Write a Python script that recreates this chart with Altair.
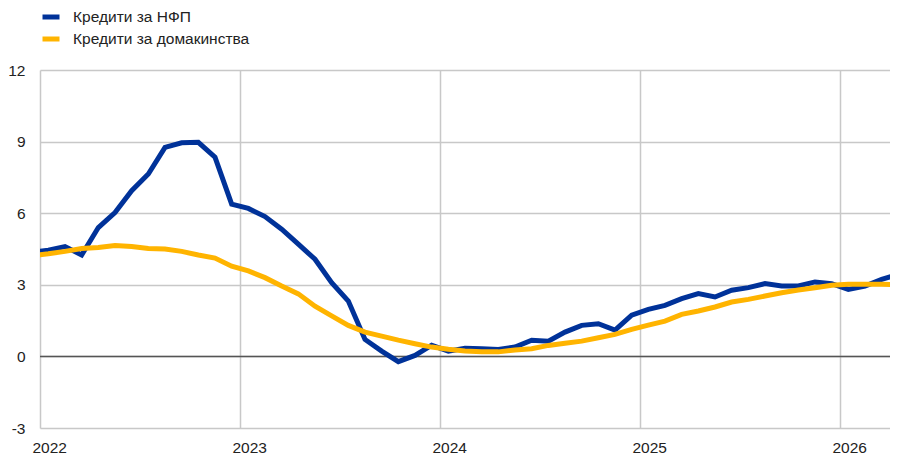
import altair as alt
import pandas as pd

months = pd.date_range("2021-12-01", "2026-04-01", freq="MS")
month_labels = [d.strftime("%Y-%m") for d in months]

nfc_loans = [4.35, 4.45, 4.6, 4.25, 5.4, 6.03, 6.94, 7.64, 8.76, 8.95, 8.97, 8.35,
             6.38, 6.2, 5.86, 5.33, 4.7, 4.07, 3.09, 2.32, 0.71, 0.22, -0.22, 0.04,
             0.47, 0.22, 0.34, 0.32, 0.29, 0.39, 0.68, 0.64, 1.02, 1.3, 1.37, 1.1,
             1.73, 1.97, 2.14, 2.42, 2.63, 2.49, 2.77, 2.88, 3.05, 2.95, 2.95, 3.12,
             3.05, 2.81, 2.95, 3.23, 3.44]
hh_loans = [4.22, 4.3, 4.4, 4.52, 4.56, 4.65, 4.6, 4.52, 4.5, 4.4, 4.25, 4.12,
            3.78, 3.58, 3.3, 2.95, 2.62, 2.1, 1.7, 1.3, 1.02, 0.85, 0.68, 0.53,
            0.39, 0.3, 0.23, 0.19, 0.19, 0.27, 0.32, 0.46, 0.55, 0.64, 0.78, 0.92,
            1.13, 1.31, 1.48, 1.76, 1.9, 2.07, 2.28, 2.39, 2.53, 2.67, 2.78, 2.88,
            2.98, 3.02, 3.02, 3.02, 3.0]

series_names = ["Кредити за НФП", "Кредити за домакинства"]
series_colors = ["#003299", "#FFB400"]
year_ticks = [2022, 2023, 2024, 2025, 2026]
y_ticks = [-3, 0, 3, 6, 9, 12]

def decimal_year(lbl):
    y, m = lbl.split("-")
    return int(y) + (int(m) - 0.5) / 12

rows = []
for name, vals in zip(series_names, [nfc_loans, hh_loans]):
    for lbl, v in zip(month_labels, vals):
        rows.append({"t": decimal_year(lbl), "value": v, "series": name})
df = pd.DataFrame(rows)

font = "Liberation Sans, Arial, sans-serif"

x_enc = alt.X("t:Q", scale=alt.Scale(domain=[2022, 2026.25], nice=False, zero=False),
              axis=alt.Axis(values=year_ticks, format="d", title=None, ticks=False,
                            domain=False, grid=True, gridColor="#c8c8c8", gridWidth=1.5,
                            labelAlign="left", labelOffset=-8, labelPadding=12,
                            labelBaseline="top", labelFont=font, labelFontSize=15.5,
                            labelColor="#222222"))
y_enc = alt.Y("value:Q", scale=alt.Scale(domain=[-3, 12], nice=False),
              axis=alt.Axis(values=y_ticks, title=None, ticks=False, domain=False,
                            grid=True, gridColor="#c8c8c8", gridWidth=1.5,
                            labelExpr="toString(datum.value)",
                            labelPadding=15, labelFont=font, labelFontSize=15.5,
                            labelColor="#222222"))
color_enc = alt.Color("series:N",
                      scale=alt.Scale(domain=series_names, range=series_colors),
                      sort=series_names,
                      legend=alt.Legend(title=None, orient="none", legendX=0, legendY=-64,
                                        symbolType="stroke", symbolStrokeWidth=5,
                                        symbolSize=289, labelOffset=11, labelLimit=400,
                                        labelFont=font, labelFontSize=15.5,
                                        labelColor="#222222", rowPadding=1, padding=0))

zero = alt.Chart(pd.DataFrame({"v": [0]})).mark_rule(color="#555555", strokeWidth=1.5).encode(
    y=alt.Y("v:Q", scale=alt.Scale(domain=[-3, 12], nice=False)))

blue = alt.Chart(df).transform_filter(alt.datum.series == series_names[0]).mark_line(
    strokeWidth=5, clip=True).encode(x=x_enc, y=y_enc, color=color_enc)
yellow = alt.Chart(df).transform_filter(alt.datum.series == series_names[1]).mark_line(
    strokeWidth=5, clip=True).encode(x=x_enc, y=y_enc, color=color_enc)

chart = alt.layer(zero, blue, yellow).properties(
    width=850, height=358,
    autosize=alt.AutoSizeParams(type="none"),
    padding={"left": 32, "top": 62, "right": 0, "bottom": 28},
).configure_view(stroke=None)

chart.save("out.html", embed_options={"renderer": "svg", "actions": False})
